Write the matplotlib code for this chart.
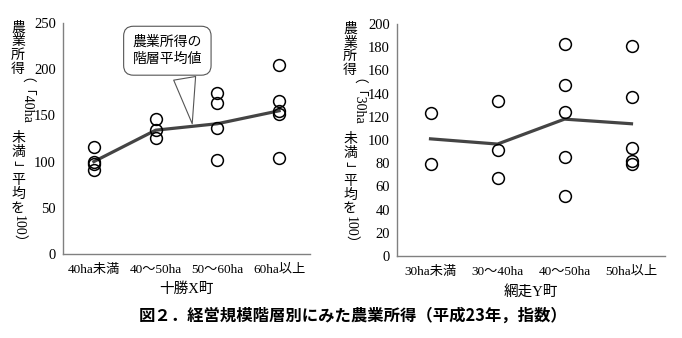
import matplotlib.pyplot as plt
import numpy as np

plt.rcParams['font.family'] = ['Liberation Serif', 'Noto Sans CJK JP']

# 十勝X町
x_cats = ['40ha未満', '40～50ha', '50～60ha', '60ha以上']
x_points = [[116, 100, 97, 91],
            [146, 134, 125],
            [174, 163, 136, 102],
            [205, 166, 155, 152, 104]]
x_mean = [100, 134, 141, 155]

# 網走Y町
y_cats = ['30ha未満', '30～40ha', '40～50ha', '50ha以上']
y_points = [[123, 79],
            [134, 91, 67],
            [183, 147, 124, 85, 52],
            [181, 137, 93, 82, 79]]
y_mean = [101, 96.5, 118, 114]

fig = plt.figure(figsize=(6.82, 3.38), dpi=100)
ax1 = fig.add_axes([63/682, 1-254/338, 247/682, 231/338])
ax2 = fig.add_axes([397/682, 1-256/338, 268/682, 232/338])

def draw_panel(ax, cats, points, mean, ymax, step, xlabel):
    for i, vals in enumerate(points):
        ax.plot([i]*len(vals), vals, 'o', ms=8.5, mfc='none', mec='black', mew=1.1, zorder=3)
    ax.plot(range(len(mean)), mean, '-', color='#444444', lw=2.3, zorder=2)
    ax.set_xlim(-0.5, len(cats)-0.5)
    ax.set_ylim(0, ymax)
    ax.set_yticks(np.arange(0, ymax+1, step))
    ax.set_xticks(range(len(cats)))
    ax.set_xticklabels(cats, fontsize=9.5)
    ax.tick_params(axis='y', labelsize=10.5, length=0, pad=5)
    ax.tick_params(axis='x', length=0, pad=7)
    for s in ['top', 'right']:
        ax.spines[s].set_visible(False)
    for s in ['left', 'bottom']:
        ax.spines[s].set_color('#808080')
        ax.spines[s].set_linewidth(1.0)
    ax.set_xlabel(xlabel, fontsize=10.5, labelpad=5)

draw_panel(ax1, x_cats, x_points, x_mean, 250, 50, '十勝X町')
draw_panel(ax2, y_cats, y_points, y_mean, 200, 20, '網走Y町')

ax1.annotate('農業所得の\n階層平均値', xy=(1.6, 138), xytext=(1.19, 220),
             ha='center', va='center', fontsize=10, linespacing=1.45,
             bbox=dict(boxstyle='round,pad=0.65,rounding_size=0.7', fc='white', ec='#555555', lw=0.8),
             arrowprops=dict(arrowstyle='wedge,tail_width=1.6,shrink_factor=0.5',
                             fc='white', ec='#555555', lw=0.8, relpos=(0.72, 0.0)))

# vertical (tategaki) y labels
renderer = fig.canvas.get_renderer()

def vlabel(xpx, ycenter_px, segments, size=10):
    pitch = size * 100 / 72 * 0.98
    items = []
    total = 0
    for seg, upright in segments:
        if upright:
            for ch in seg:
                items.append((ch, False, pitch))
                total += pitch
        else:
            t = fig.text(0, 0, seg, fontsize=size, rotation=-90)
            h = t.get_window_extent(renderer).height
            t.remove()
            items.append((seg, True, h + 1))
            total += h + 1
    y = ycenter_px + total / 2
    for txt, rot, h in items:
        fig.text(xpx/682, (y - h/2)/338, txt, fontsize=size, ha='center', va='center',
                 rotation=-90 if rot else 0)
        y -= h

segs = lambda n: [('農業所得', True), ('（「' + n + 'ha', False), ('未満', True),
                  ('」', False), ('平均を', True), ('100）', False)]
vlabel(18, 338 - 136, segs('40'))
vlabel(350, 338 - 137, segs('30'))

fig.text(353/682, 1 - 316/338, '図２．経営規模階層別にみた農業所得（平成23年，指数）',
         ha='center', va='center', fontsize=11.8, fontweight='bold',
         family=['Noto Sans CJK JP'])

fig.savefig('out.png', dpi=100)
